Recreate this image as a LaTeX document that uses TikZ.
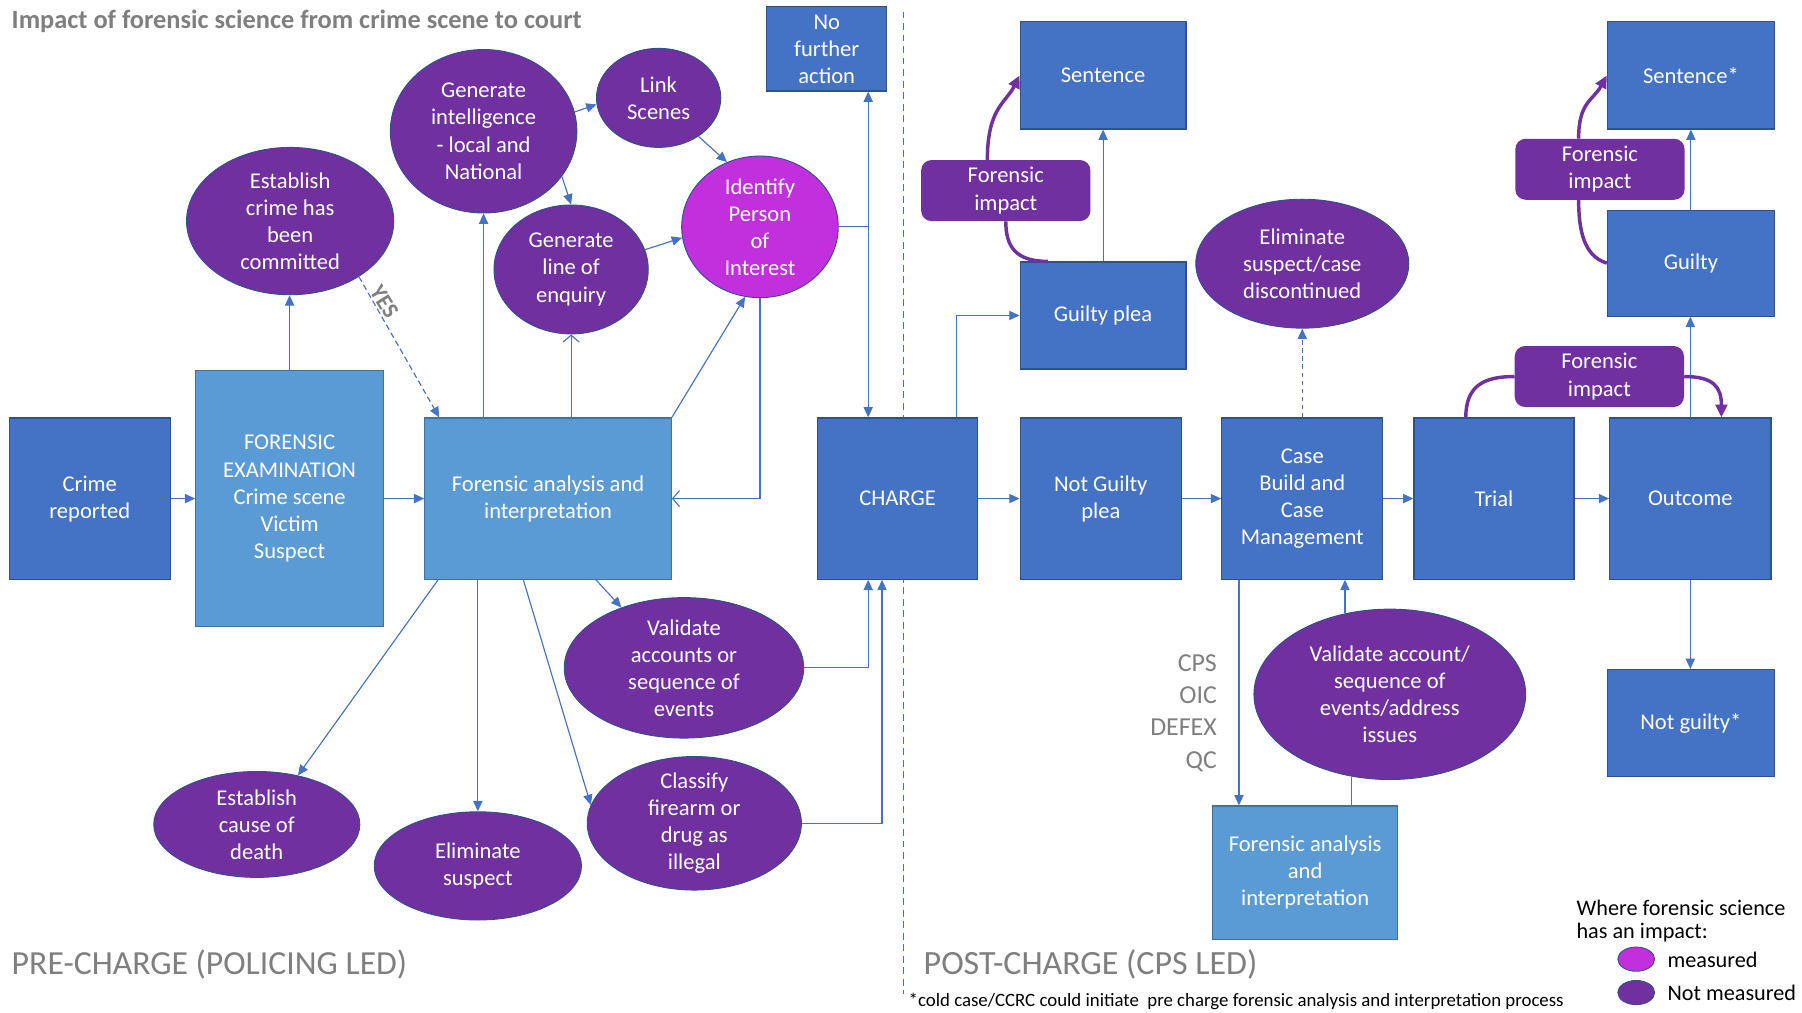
\documentclass[tikz,border=0pt]{standalone}
\usepackage{fontspec}
\setmainfont{Carlito}
\usetikzlibrary{shapes.geometric,arrows.meta,calc}
\definecolor{dblue}{HTML}{4472C4}
\definecolor{lblue}{HTML}{5B9BD5}
\definecolor{bdark}{HTML}{2F528F}
\definecolor{blight}{HTML}{41719C}
\definecolor{purp}{HTML}{7030A0}
\definecolor{magen}{HTML}{C22FDD}
\definecolor{grayt}{HTML}{7F7F7F}
\begin{document}
\begin{tikzpicture}[x=1pt,y=-1pt,
  box/.style={rectangle,draw=bdark,line width=1pt,fill=dblue,text=white,align=center,inner sep=0pt,font=\fontsize{19.6}{23.5}\selectfont},
  lbox/.style={box,fill=lblue,draw=blight},
  ell/.style={ellipse,draw=bdark,line width=0.8pt,fill=purp,text=white,align=center,inner sep=-7pt,font=\fontsize{19.6}{23.5}\selectfont},
  mell/.style={ell,fill=magen},
  fibox/.style={rectangle,rounded corners=9pt,fill=purp,text=white,align=center,inner sep=0pt,minimum width=147pt,minimum height=53pt,font=\fontsize{19.6}{23.5}\selectfont},
  con/.style={draw=dblue,line width=1pt,-{Triangle[length=9pt,width=8pt]}},
  ocon/.style={draw=dblue,line width=1pt,-{Straight Barb[length=6pt,width=14pt]}},
  plainline/.style={draw=dblue,line width=1pt},
  ficurve/.style={draw=purp,line width=3pt},
  ficarrow/.style={ficurve,-{Triangle[length=11pt,width=10pt]}},
  gtext/.style={text=grayt,inner sep=0pt},
  btext/.style={text=black,inner sep=0pt},
]
\useasboundingbox (0,0) rectangle (1565,879);

% title and section labels
\node[gtext,anchor=base west,font=\bfseries\fontsize{22.9}{26}\selectfont] (title) at (10,25) {Impact of forensic science from crime scene to court};
\node[gtext,anchor=base west,font=\fontsize{29.3}{33}\selectfont] (pre) at (10,846) {PRE-CHARGE (POLICING LED)};
\node[gtext,anchor=base west,font=\fontsize{29.5}{33}\selectfont] (post) at (802,846) {POST-CHARGE (CPS LED)};
\node[btext,anchor=base west,font=\fontsize{16.35}{19}\selectfont] (foot) at (789,874) {*cold case/CCRC could initiate\ \ pre charge forensic analysis and interpretation process};

% divider
\draw[dblue,line width=1pt,dash pattern=on 6pt off 4pt] (785,10) -- (785,863);

% boxes
\node[box,minimum width=140pt,minimum height=140pt] (cr) at (78,433) {Crime\\reported};
\node[lbox,minimum width=163pt,minimum height=222pt] (fe) at (251.5,433) {FORENSIC\\EXAMINATION\\Crime scene\\Victim\\Suspect};
\node[lbox,minimum width=214pt,minimum height=140pt] (fa) at (476,433) {Forensic analysis and\\interpretation};
\node[box,minimum width=104pt,minimum height=73pt] (nfa) at (718,42.5) {No\\further\\action};
\node[box,minimum width=139pt,minimum height=140pt] (ch) at (779.5,433) {CHARGE};
\node[box,minimum width=144pt,minimum height=93pt] (sen) at (958,65.5) {Sentence};
\node[box,minimum width=144pt,minimum height=93pt] (gp) at (958,274) {Guilty plea};
\node[box,minimum width=140pt,minimum height=140pt] (ngp) at (956,433) {Not Guilty\\plea};
\node[box,minimum width=140pt,minimum height=140pt] (cb) at (1131,433) {Case\\Build and\\Case\\Management};
\node[box,minimum width=139pt,minimum height=140pt] (tr) at (1297.5,433) {Trial};
\node[box,minimum width=140pt,minimum height=140pt] (oc) at (1468,433) {Outcome};
\node[box,minimum width=145pt,minimum height=93pt] (sen2) at (1468.5,65.5) {Sentence*};
\node[box,minimum width=145pt,minimum height=92pt] (gu) at (1468.5,228.5) {Guilty};
\node[box,minimum width=145pt,minimum height=93pt] (ng2) at (1468.5,628) {Not guilty*};
\node[lbox,minimum width=161pt,minimum height=116pt] (fap) at (1133.5,758) {Forensic analysis\\and\\interpretation};

% ellipses
\node[ell,minimum width=180pt,minimum height=128pt] (ec) at (252,192) {Establish\\crime has\\been\\committed};
\node[ell,minimum width=162pt,minimum height=142pt] (gi) at (420,114) {Generate\\intelligence\\- local and\\National};
\node[ell,minimum width=108pt,minimum height=86pt] (ls) at (572,85) {Link\\Scenes};
\node[ell,minimum width=134pt,minimum height=112pt] (gl) at (496,234) {Generate\\line of\\enquiry};
\node[mell,minimum width=136pt,minimum height=123pt] (ip) at (660,197) {Identify\\Person\\of\\Interest};
\node[ell,minimum width=208pt,minimum height=122pt] (va) at (594,580) {Validate\\accounts or\\sequence of\\events};
\node[ell,minimum width=179pt,minimum height=92pt] (cd) at (223,716) {Establish\\cause of\\death};
\node[ell,minimum width=180pt,minimum height=94pt] (es) at (415,752) {Eliminate\\suspect};
\node[ell,minimum width=186pt,minimum height=116pt] (cf) at (603,715) {Classify\\firearm or\\drug as\\illegal};
\node[ell,minimum width=185pt,minimum height=112pt] (esc) at (1131,229) {Eliminate\\suspect/case\\discontinued};
\node[ell,minimum width=236pt,minimum height=148pt] (va2) at (1207,603) {Validate account/\\sequence of\\events/address\\issues};

% forensic impact labels
\node[fibox] (fi1) at (873.5,165.5) {Forensic\\impact};
\node[fibox] (fi2) at (1389.5,147) {Forensic\\impact};
\node[fibox] (fi3) at (1389,327) {Forensic\\impact};

% CPS list
\node[gtext,anchor=base east,font=\fontsize{22.5}{26}\selectfont] (cps1) at (1057,583) {CPS};
\node[gtext,anchor=base east,font=\fontsize{22.5}{26}\selectfont] (cps2) at (1057,611) {OIC};
\node[gtext,anchor=base east,font=\fontsize{22.5}{26}\selectfont] (cps3) at (1057,639) {DEFEX};
\node[gtext,anchor=base east,font=\fontsize{22.5}{26}\selectfont] (cps4) at (1057,667) {QC};

% legend
\node[btext,anchor=base west,font=\fontsize{19.3}{20}\selectfont] (lg1) at (1369,795) {Where forensic science};
\node[btext,anchor=base west,font=\fontsize{19.3}{20}\selectfont] (lg2) at (1369,815) {has an impact:};
\node[ellipse,draw=bdark,line width=0.8pt,fill=magen,minimum width=32pt,minimum height=21pt,inner sep=0pt] (lgm) at (1421,833) {};
\node[ellipse,draw=bdark,line width=0.8pt,fill=purp,minimum width=32pt,minimum height=21pt,inner sep=0pt] (lgn) at (1421,862) {};
\node[btext,anchor=base west,font=\fontsize{19.3}{20}\selectfont] (lgmt) at (1448,840) {measured};
\node[btext,anchor=base west,font=\fontsize{19.3}{20}\selectfont] (lgnt) at (1448,869) {Not measured};

% YES label
\node[gtext,font=\bfseries\fontsize{20}{20}\selectfont,rotate=-58] (yes) at (334,262) {YES};

% pre-charge connectors
\draw[con] (cr) -- (fe);
\draw[con] (fe) -- (fa);
\draw[con] (fe.north) -- (fe.north |- ec.south);
\draw[con,dash pattern=on 5pt off 3pt] (ec.-39) -- ([xshift=13pt]fa.north west);
\draw[con] (gi.south |- fa.north) -- (gi.south);
\draw[ocon] (gl.south |- fa.north) -- (gl.south);
\draw[con] (fa.north east) -- (ip.-102);
\draw[con] (gi.12) -- (ls.186);
\draw[con] (gi.-30) -- (gl.north);
\draw[con] (ls.-44) -- (ip.117);
\draw[con] (gl.15) -- (ip.188);
\draw[ocon] (ip.south) |- (fa.east);
\coordinate (jn) at (754,197);
\draw[plainline] (ip.east) -- (jn);
\draw[con] (jn) -- (jn |- nfa.south);
\draw[con] (jn) -- (jn |- ch.north);
\draw[con] ([xshift=12pt]fa.south west) -- (cd.50);
\draw[con] (es.north |- fa.south) -- (es.north);
\draw[con] ([xshift=86pt]fa.south west) -- (cf.170);
\draw[con] ([xshift=149pt]fa.south west) -- (va.136);
\draw[con] (va.east) -| ([xshift=-25.5pt]ch.south);
\draw[con] (cf.east) -| ([xshift=-13.5pt]ch.south);

% post-charge connectors
\draw[con] (ch) -- (ngp);
\draw[con] ([xshift=51pt]ch.north) |- (gp.west);
\draw[con] (gp) -- (sen);
\draw[con] (ngp) -- (cb);
\draw[con] (cb) -- (tr);
\draw[con] (tr) -- (oc);
\draw[con,dash pattern=on 4pt off 3pt] (cb.north) -- (cb.north |- esc.south);
\draw[con] (oc.north) -- (oc.north |- gu.south);
\draw[con] (gu.north) -- (gu.north |- sen2.south);
\draw[con] (oc.south) -- (oc.south |- ng2.north);
\draw[con] ([xshift=-55pt]cb.south) -- ([xshift=-55pt]cb.south |- fap.north);
\draw[plainline] (va2.-115 |- fap.north) -- (va2.-115);
\draw[con] (va2.119) -- (va2.119 |- cb.south);

% forensic impact curves
\draw[ficurve] ([xshift=-48pt]gp.north) .. controls +(-28,0) and +(0,22) .. (fi1.south);
\draw[ficarrow] ([xshift=-16pt]fi1.north) .. controls +(0,-45) and +(-12,24) .. (sen.west);
\draw[ficurve] (gu.west) .. controls +(-20,-6) and +(0,26) .. ([xshift=-18.5pt]fi2.south);
\draw[ficarrow] ([xshift=-18.5pt]fi2.north) .. controls +(0,-32) and +(-12,22) .. (sen2.west);
\draw[ficurve] ([xshift=-24.5pt]tr.north) .. controls +(0,-28) and +(-26,0) .. (fi3.west);
\draw[ficarrow] (fi3.east) .. controls +(26,0) and +(0,-26) .. ([xshift=27pt]oc.north);
\end{tikzpicture}
\end{document}
